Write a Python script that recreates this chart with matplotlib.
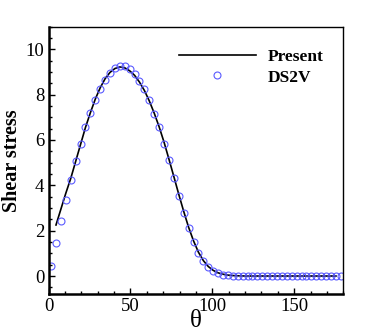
import numpy as np
import matplotlib
matplotlib.use("Agg")
import matplotlib.pyplot as plt
from matplotlib.ticker import MultipleLocator

plt.rcParams["font.family"] = ["Liberation Serif", "DejaVu Serif"]
plt.rcParams["mathtext.fontset"] = "stix"

# DS2V data (open circles)
ds2v_theta = np.arange(1.5, 180, 3.0)
ds2v_tau = [0.44, 1.47, 2.42, 3.37, 4.22, 5.06, 5.84, 6.55, 7.20, 7.77,
            8.25, 8.65, 8.94, 9.16, 9.28, 9.27, 9.12, 8.91, 8.62, 8.25,
            7.74, 7.16, 6.57, 5.84, 5.10, 4.30, 3.55, 2.77, 2.11, 1.51,
            1.00, 0.65, 0.40, 0.22, 0.12, 0.06, 0.03, 0.02, 0.01, 0.01,
            0.0, 0.0, 0.0, 0.0, 0.0, 0.0, 0.0, 0.0, 0.0, 0.0,
            0.0, 0.0, 0.0, 0.0, 0.0, 0.0, 0.0, 0.0, 0.0, 0.0]

# present solution (solid line)
pres_theta = [4.5, 7.5, 10.5, 13.5, 16.5, 19.5, 22.5, 25.5, 28.5, 31.5,
              34.5, 37.5, 40.5, 43.5, 46.5, 49.5, 52.5, 55.5, 58.5, 61.5,
              64.5, 67.5, 70.5, 73.5, 76.5, 79.5, 82.5, 85.5, 88.5, 91.5,
              94.5, 97.5, 100.5, 103.5, 106.5, 109.5, 112.5, 115.5, 120.0, 175.5]
pres_tau = [2.25, 2.95, 3.65, 4.30, 5.05, 5.80, 6.55, 7.20, 7.80, 8.30,
            8.70, 8.98, 9.15, 9.22, 9.18, 9.05, 8.85, 8.55, 8.18, 7.72,
            7.18, 6.58, 5.90, 5.15, 4.38, 3.60, 2.85, 2.15, 1.55, 1.05,
            0.68, 0.42, 0.25, 0.14, 0.08, 0.04, 0.02, 0.01, 0.0, 0.0]

fig = plt.figure(figsize=(3.74, 3.32), dpi=100)
ax = fig.add_axes([0.130, 0.114, 0.788, 0.806])

ax.plot(pres_theta, pres_tau, color="black", lw=1.2, label="Present")
ax.plot(ds2v_theta, ds2v_tau, "o", ms=5, mfc="none", mec="#5a5aff", mew=0.8,
        label="DS2V", linestyle="none")

ax.set_xlim(0, 180)
ax.set_ylim(-0.8, 11)
ax.xaxis.set_major_locator(MultipleLocator(50))
ax.xaxis.set_minor_locator(MultipleLocator(10))
ax.yaxis.set_major_locator(MultipleLocator(2))
ax.yaxis.set_minor_locator(MultipleLocator(0.5))
ax.tick_params(which="both", direction="in", top=False, right=False, labelsize=13.5, width=1)
ax.tick_params(which="major", length=4.3, pad=3)
ax.tick_params(which="minor", length=2.2)
for s in ("left", "bottom"):
    ax.spines[s].set_linewidth(1.8)
for s in ("top", "right"):
    ax.spines[s].set_linewidth(1.0)

ax.set_xlabel("θ", fontsize=18, labelpad=-4)
ax.set_ylabel("Shear stress", fontsize=14.5, fontweight="bold", labelpad=3)

leg = ax.legend(loc="upper left", bbox_to_anchor=(0.39, 0.975), frameon=False,
                handlelength=4.4, handletextpad=0.7, labelspacing=0.25,
                prop={"weight": "bold", "size": 12.5})

fig.savefig("out.png", dpi=100)
